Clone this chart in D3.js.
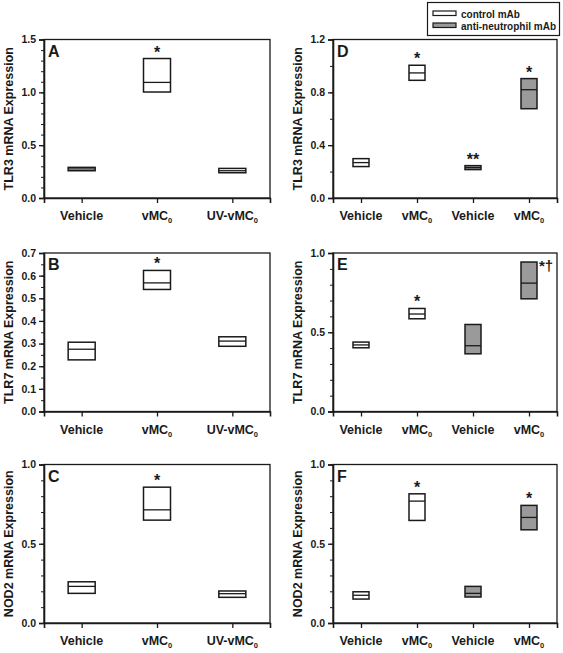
<!DOCTYPE html>
<html><head><meta charset="utf-8">
<script src="https://cdn.jsdelivr.net/npm/d3@7"></script>
<style>
body{margin:0;background:#fff;}
svg{display:block;font-family:"Liberation Sans",Arial,sans-serif;font-weight:bold;}
</style></head>
<body><svg id="c" width="563" height="653"></svg>
<script>
// ---- data ----
const leftCategories = ["Vehicle", "vMC0", "UV-vMC0"];
const rightCategories = ["Vehicle", "vMC0", "Vehicle", "vMC0"];
const rightGroups = ["control", "control", "anti", "anti"];
const legendLabels = ["control mAb", "anti-neutrophil mAb"];

const aLow = [0.258, 1.003, 0.239], aMed = [0.275, 1.094, 0.258], aHigh = [0.290, 1.320, 0.280];
const aStars = ["", "*", ""];
const bLow = [0.228, 0.539, 0.288], bMed = [0.275, 0.568, 0.311], bHigh = [0.306, 0.623, 0.330];
const bStars = ["", "*", ""];
const cLow = [0.187, 0.649, 0.162], cMed = [0.231, 0.714, 0.185], cHigh = [0.260, 0.857, 0.202];
const cStars = ["", "*", ""];
const dLow = [0.238, 0.891, 0.215, 0.676], dMed = [0.268, 0.947, 0.230, 0.820], dHigh = [0.298, 1.005, 0.245, 0.904];
const dStars = ["", "*", "**", "*"];
const eLow = [0.402, 0.585, 0.364, 0.711], eMed = [0.420, 0.615, 0.415, 0.810], eHigh = [0.438, 0.650, 0.549, 0.943];
const eStars = ["", "*", "", "*†"];
const fLow = [0.151, 0.647, 0.164, 0.588], fMed = [0.175, 0.769, 0.187, 0.666], fHigh = [0.197, 0.815, 0.231, 0.742];
const fStars = ["", "*", "", "*"];

const aTicks = [0, 0.5, 1.0, 1.5], aMinor = d3.range(0, 1.5001, 0.1);
const bTicks = [0, 0.1, 0.2, 0.3, 0.4, 0.5, 0.6, 0.7], bMinor = d3.range(0, 0.7001, 0.05);
const cTicks = [0, 0.5, 1.0], cMinor = d3.range(0, 1.0001, 0.1);
const dTicks = [0, 0.4, 0.8, 1.2], dMinor = d3.range(0, 1.2001, 0.2);
const eTicks = [0, 0.5, 1.0], eMinor = d3.range(0, 1.0001, 0.1);
const fTicks = [0, 0.5, 1.0], fMinor = d3.range(0, 1.0001, 0.1);

// ---- drawing ----
const svg = d3.select("#c");
const GRAY = "#9a9a9a", INK = "#1a1a1a";

function catLabel(sel, txt) {
  if (txt.endsWith("MC0")) {
    sel.text(null);
    sel.append("tspan").text(txt.slice(0, -1));
    sel.append("tspan").attr("font-size", "7.5px").attr("dy", 3).text("0");
  } else sel.text(txt);
}

function panel(o) {
  const g = svg.append("g");
  const x = d3.scaleLinear().domain([-0.5, o.cats.length - 0.5]).range([o.x0, o.x1]);
  const y = d3.scaleLinear().domain([0, o.ymax]).range([o.y1, o.y0]);
  g.append("rect").attr("x", o.x0).attr("y", o.y0).attr("width", o.x1 - o.x0).attr("height", o.y1 - o.y0)
    .attr("fill", "none").attr("stroke", INK).attr("stroke-width", 1.3);
  const ya = g.append("g").attr("transform", `translate(${o.x0},0)`)
    .call(d3.axisLeft(y).tickValues(o.ticks).tickSize(5).tickPadding(3).tickFormat(d3.format(".1f")));
  ya.select(".domain").attr("stroke", INK).attr("stroke-width", 1.6);
  ya.selectAll(".tick line").attr("stroke", INK).attr("stroke-width", 1.3);
  ya.selectAll("text").attr("font-size", "10.5px").attr("font-family", "Liberation Sans, Arial, sans-serif")
    .attr("font-weight", "bold").attr("fill", INK);
  const ym = g.append("g").attr("transform", `translate(${o.x0},0)`)
    .call(d3.axisLeft(y).tickValues(o.minor).tickSize(3).tickFormat(""));
  ym.select(".domain").remove();
  ym.selectAll(".tick line").attr("stroke", INK).attr("stroke-width", 1);
  const xa = g.append("g").attr("transform", `translate(0,${o.y1})`)
    .call(d3.axisBottom(x).tickValues(d3.range(o.cats.length)).tickSize(5).tickFormat(""));
  xa.select(".domain").attr("stroke", INK).attr("stroke-width", 1.6);
  xa.selectAll(".tick line").attr("stroke", INK).attr("stroke-width", 1.3);
  o.cats.forEach((c, i) => {
    g.append("text").attr("x", x(i)).attr("y", o.y1 + 22).attr("text-anchor", "middle")
      .attr("font-size", "12.5px").attr("fill", INK).call(catLabel, c);
  });
  g.append("text").attr("transform", `translate(${o.tx},${(o.y0 + o.y1) / 2}) rotate(-90)`)
    .attr("text-anchor", "middle").attr("font-size", "12.5px").attr("fill", INK).text(o.title);
  g.append("text").attr("x", o.x0 + 4).attr("y", o.y0 + 17).attr("font-size", "16px").attr("fill", INK).text(o.letter);
  const bw = o.bw;
  o.cats.forEach((c, i) => {
    const fill = o.groups && o.groups[i] === "anti" ? GRAY : "#fff";
    g.append("rect").attr("x", x(i) - bw / 2).attr("y", y(o.high[i])).attr("width", bw)
      .attr("height", y(o.low[i]) - y(o.high[i])).attr("fill", fill).attr("stroke", INK).attr("stroke-width", 1.5);
    g.append("line").attr("x1", x(i) - bw / 2).attr("x2", x(i) + bw / 2)
      .attr("y1", y(o.med[i])).attr("y2", y(o.med[i])).attr("stroke", INK).attr("stroke-width", 1.3);
    const s = o.stars[i];
    if (s) {
      if (s.includes("†")) {
        g.append("text").attr("x", x(i) + bw / 2 + 2).attr("y", y(o.high[i]) + 9)
          .attr("font-size", "15px").attr("fill", INK).text(s);
      } else {
        g.append("text").attr("x", x(i)).attr("y", y(o.high[i]) - 1).attr("text-anchor", "middle")
          .attr("font-size", "16px").attr("fill", INK).text(s);
      }
    }
  });
}

const L = {x0: 44, x1: 270, tx: 13, bw: 27};
const R = {x0: 333, x1: 557, tx: 302, bw: 16};
const rows = [{y0: 39.5, y1: 198}, {y0: 253, y1: 411.5}, {y0: 464.5, y1: 623}];

panel({...L, ...rows[0], cats: leftCategories, low: aLow, med: aMed, high: aHigh, stars: aStars, ymax: 1.5, ticks: aTicks, minor: aMinor, title: "TLR3 mRNA Expression", letter: "A"});
panel({...L, ...rows[1], cats: leftCategories, low: bLow, med: bMed, high: bHigh, stars: bStars, ymax: 0.7, ticks: bTicks, minor: bMinor, title: "TLR7 mRNA Expression", letter: "B"});
panel({...L, ...rows[2], cats: leftCategories, low: cLow, med: cMed, high: cHigh, stars: cStars, ymax: 1.0, ticks: cTicks, minor: cMinor, title: "NOD2 mRNA Expression", letter: "C"});
panel({...R, ...rows[0], cats: rightCategories, groups: rightGroups, low: dLow, med: dMed, high: dHigh, stars: dStars, ymax: 1.2, ticks: dTicks, minor: dMinor, title: "TLR3 mRNA Expression", letter: "D"});
panel({...R, ...rows[1], cats: rightCategories, groups: rightGroups, low: eLow, med: eMed, high: eHigh, stars: eStars, ymax: 1.0, ticks: eTicks, minor: eMinor, title: "TLR7 mRNA Expression", letter: "E"});
panel({...R, ...rows[2], cats: rightCategories, groups: rightGroups, low: fLow, med: fMed, high: fHigh, stars: fStars, ymax: 1.0, ticks: fTicks, minor: fMinor, title: "NOD2 mRNA Expression", letter: "F"});

const lg = svg.append("g");
lg.append("rect").attr("x", 427.5).attr("y", 2.5).attr("width", 132).attr("height", 33)
  .attr("fill", "#fff").attr("stroke", INK).attr("stroke-width", 1.2);
legendLabels.forEach((t, i) => {
  lg.append("rect").attr("x", 433).attr("y", 11 + i * 12).attr("width", 23).attr("height", 4.5)
    .attr("fill", i === 0 ? "#fff" : GRAY).attr("stroke", INK).attr("stroke-width", 1.2);
  lg.append("text").attr("x", 461).attr("y", 17.5 + i * 12).attr("font-size", "10px").attr("fill", INK).text(t);
});
</script></body></html>
